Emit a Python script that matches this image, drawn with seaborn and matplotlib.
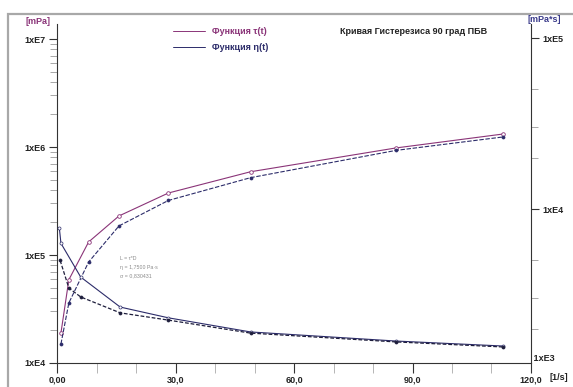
import numpy as np
import pandas as pd
import matplotlib
matplotlib.use("Agg")
import matplotlib.pyplot as plt
import matplotlib.ticker as mticker
from matplotlib.patches import Rectangle
import seaborn as sns

# ---- data ----
shear_rate_tau = [1.0, 3.0, 8.0, 15.7, 28.2, 49.0, 85.8, 113.0]
tau_up = [1.9e4, 5.9e4, 1.32e5, 2.3e5, 3.75e5, 5.9e5, 9.8e5, 1.32e6]
tau_down = [1.5e4, 3.6e4, 8.6e4, 1.86e5, 3.2e5, 5.2e5, 9.3e5, 1.24e6]

shear_rate_eta_up = [0.6, 1.0, 6.0, 16.0, 28.2, 49.0, 85.8, 113.0]
eta_up = [7.7e3, 6.3e3, 4.0e3, 2.67e3, 2.31e3, 1.91e3, 1.69e3, 1.58e3]
shear_rate_eta_down = [0.8, 3.0, 6.0, 16.0, 28.2, 49.0, 85.8, 113.0]
eta_down = [5.0e3, 3.45e3, 3.06e3, 2.47e3, 2.24e3, 1.88e3, 1.67e3, 1.56e3]

x_ticks = [0, 30, 60, 90, 120]
x_tick_labels = ["0,00", "30,0", "60,0", "90,0", "120,0"]
left_ticks = [1e4, 1e5, 1e6, 1e7]
left_tick_labels = ["1xE4", "1xE5", "1xE6", "1xE7"]
right_ticks = [1e4, 1e5]
right_tick_labels = ["1xE4", "1xE5"]
right_bottom_label = "1xE3"

title = "Кривая Гистерезиса 90 град ПБВ"
legend_labels = ["Функция τ(t)", "Функция η(t)"]

MAG = "#8a3478"
NAVY = "#2c2c6a"

sns.set_style("white")
plt.rcParams["font.family"] = ["Liberation Sans", "DejaVu Sans"]

fig = plt.figure(figsize=(5.73, 3.87), dpi=100)
W, H = 573, 387
def px(x0, y0, x1, y1):
    return [x0 / W, 1 - y1 / H, (x1 - x0) / W, (y1 - y0) / H]

ax = fig.add_axes(px(57, 24, 531, 363))
ax2 = ax.twinx()

df_tu = pd.DataFrame({"x": shear_rate_tau, "y": tau_up})
df_td = pd.DataFrame({"x": shear_rate_tau, "y": tau_down})
df_eu = pd.DataFrame({"x": shear_rate_eta_up, "y": eta_up})
df_ed = pd.DataFrame({"x": shear_rate_eta_down, "y": eta_down})

sns.lineplot(data=df_tu, x="x", y="y", ax=ax, color=MAG, lw=0.8,
             marker="o", markersize=2.6, markerfacecolor="white",
             markeredgecolor=MAG, markeredgewidth=0.6, sort=False)
sns.lineplot(data=df_td, x="x", y="y", ax=ax, color=NAVY, lw=0.8,
             linestyle=(0, (4, 1.5)), marker="o", markersize=2.2,
             markeredgecolor=NAVY, markeredgewidth=0.5, sort=False)
sns.lineplot(data=df_eu, x="x", y="y", ax=ax2, color=NAVY, lw=0.8,
             marker="o", markersize=2.2, markerfacecolor="white",
             markeredgecolor=NAVY, markeredgewidth=0.5, sort=False)
sns.lineplot(data=df_ed, x="x", y="y", ax=ax2, color="#1e1e3c", lw=0.9,
             linestyle=(0, (3, 1.5)), marker="o", markersize=2.2,
             markeredgecolor="#1e1e3c", markeredgewidth=0.5, sort=False)

ax.set_yscale("log")
ax2.set_yscale("log")
ax.set_xlim(0, 120)
ax.set_ylim(1e4, 1.377e7)
r_bottom = 10 ** (4 - 154 / 171)
r_top = 10 ** (5 + 14 / 171)
ax2.set_ylim(r_bottom, r_top)

for a in (ax, ax2):
    a.set_xlabel("")
    a.set_ylabel("")
    a.spines["top"].set_visible(False)
    a.patch.set_alpha(0)

ax.spines["right"].set_visible(False)
ax2.spines["left"].set_visible(False)
ax2.spines["bottom"].set_visible(False)
for s in ("left", "bottom"):
    ax.spines[s].set_color("#333333")
    ax.spines[s].set_linewidth(0.8)
ax2.spines["right"].set_color("#333333")
ax2.spines["right"].set_linewidth(0.8)

tkw = dict(fontsize=6.5, fontweight="bold", color="#222222")
ax.set_xticks(x_ticks)
ax.set_xticklabels(x_tick_labels, **tkw)
for t in ax.get_xticklabels():
    t.set_x(t.get_position()[0])
ax.xaxis.set_minor_locator(mticker.MultipleLocator(10))
ax.tick_params(axis="x", which="major", direction="out", length=7, width=0.8,
               color="#333333", pad=2, bottom=True)
ax.tick_params(axis="x", which="minor", direction="out", length=7, width=0.6,
               color="#aaaaaa", bottom=True)

ax.yaxis.set_major_locator(mticker.FixedLocator(left_ticks))
ax.yaxis.set_major_formatter(mticker.FixedFormatter(left_tick_labels))
ax.yaxis.set_minor_locator(mticker.LogLocator(base=10, subs=np.arange(2, 10)))
ax.yaxis.set_minor_formatter(mticker.NullFormatter())
for t in ax.get_yticklabels():
    t.set_fontsize(6.5); t.set_fontweight("bold"); t.set_color("#222222")
ax.tick_params(axis="y", which="major", direction="out", length=6, width=0.8,
               color="#333333", pad=2, left=True)
ax.tick_params(axis="y", which="minor", direction="out", length=5, width=0.6,
               color="#999999", left=True)

ax2.yaxis.set_major_locator(mticker.FixedLocator(right_ticks))
ax2.yaxis.set_major_formatter(mticker.FixedFormatter(right_tick_labels))
ax2.yaxis.set_minor_locator(mticker.LogLocator(base=10, subs=[2, 3, 5]))
ax2.yaxis.set_minor_formatter(mticker.NullFormatter())
for t in ax2.get_yticklabels():
    t.set_fontsize(6.5); t.set_fontweight("bold"); t.set_color("#222222")
ax2.tick_params(axis="y", which="major", direction="out", length=6, width=0.8,
                color="#333333", pad=2, right=True)
ax2.tick_params(axis="y", which="minor", direction="out", length=5, width=0.6,
                color="#999999", right=True)
ax2.text(1.0, 0.0, " " + right_bottom_label, transform=ax2.transAxes,
         fontsize=6.5, fontweight="bold", color="#222222",
         ha="left", va="bottom")

# unit labels
fig.text(25 / W, 1 - 21 / H, "[mPa]", fontsize=6.5, fontweight="bold",
         color=MAG, va="center", ha="left")
fig.text(528 / W, 1 - 19 / H, "[mPa*s]", fontsize=6.5, fontweight="bold",
         color="#3a3a8a", va="center", ha="left")
fig.text(549 / W, 1 - 378 / H, "[1/s]", fontsize=6.5, fontweight="bold",
         color="#222222", va="center", ha="left")

# title
fig.text(340 / W, 1 - 31 / H, title, fontsize=6.5, fontweight="bold",
         color="#222222", va="center", ha="left")

# legend
for i, (lab, col) in enumerate(zip(legend_labels, [MAG, NAVY])):
    yy = 1 - (31 + 16 * i) / H
    fig.add_artist(plt.Line2D([173 / W, 205 / W], [yy, yy], color=col, lw=0.7,
                              transform=fig.transFigure))
    fig.text(212 / W, yy, lab, fontsize=6.5, fontweight="bold", color=col,
             va="center", ha="left")

# faint annotation
for i, s in enumerate(["L = τ*D", "η = 1,7500 Pa·s", "σ = 0,830431"]):
    fig.text(120 / W, 1 - (258 + 9 * i) / H, s, fontsize=3.8, color="#8a8a8a",
             va="center", ha="left")

# gray frame
fig.add_artist(Rectangle((8 / W, -0.05), 1.2, 1 - 14 / H + 0.05,
                         transform=fig.transFigure, fill=False,
                         edgecolor="#a8a8a8", lw=1.6))

fig.savefig("out.png", dpi=100)
